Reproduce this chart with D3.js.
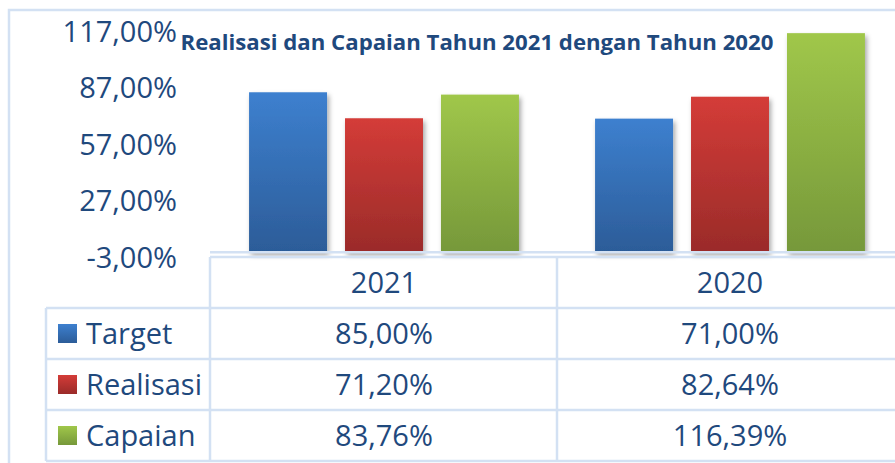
<!DOCTYPE html>
<html>
<head>
<meta charset="utf-8">
<script src="https://cdn.jsdelivr.net/npm/d3@7"></script>
<style>
  body { margin: 0; background: #fff; }
  svg { display: block; font-family: "Open Sans", "Noto Sans", sans-serif; }
</style>
</head>
<body>
<div id="wrapper"></div>
<script>
var years = ["2021", "2020"];
var series = ["Target", "Realisasi", "Capaian"];
var target = [85.00, 71.00];
var realisasi = [71.20, 82.64];
var capaian = [83.76, 116.39];
var tickValues = [-3, 27, 57, 87, 117];
var title = "Realisasi dan Capaian Tahun 2021 dengan Tahun 2020";

var values = { "Target": target, "Realisasi": realisasi, "Capaian": capaian };
var colors = {
  "Target": ["#3d80cf", "#2c5c98"],
  "Realisasi": ["#d43c38", "#9a2b29"],
  "Capaian": ["#a0c74a", "#76983a"]
};
var textColor = "#1f497d";
var lineColor = "#d3e1f3";

var fmt = function(v) { return v.toFixed(2).replace(".", ",") + "%"; };

var svg = d3.select("#wrapper")
            .append("svg")
            .attr("width", 895)
            .attr("height", 463);

var defs = svg.append("defs");
series.forEach(function(s) {
  var g = defs.append("linearGradient")
              .attr("id", "grad-" + s)
              .attr("x1", 0).attr("y1", 0).attr("x2", 0).attr("y2", 1);
  g.append("stop").attr("offset", "0%").attr("stop-color", colors[s][0]);
  g.append("stop").attr("offset", "100%").attr("stop-color", colors[s][1]);
});
var shadow = defs.append("filter").attr("id", "shadow")
                 .attr("x", "-20%").attr("y", "-20%").attr("width", "150%").attr("height", "150%");
shadow.append("feDropShadow")
      .attr("dx", 2).attr("dy", 3).attr("stdDeviation", 2.5)
      .attr("flood-color", "#000").attr("flood-opacity", 0.35);

// outer frame
svg.append("rect")
   .attr("x", 9).attr("y", 10).attr("width", 920).attr("height", 480)
   .attr("fill", "none").attr("stroke", lineColor).attr("stroke-width", 2.5);

var y = d3.scaleLinear().domain([-3, 117]).range([258, 32]);

var x0 = d3.scaleBand().domain(years).range([211, 903]);
var bw = x0.bandwidth();
var x1 = d3.scaleBand().domain(series)
           .range([bw * 0.11, bw * 0.89])
           .paddingInner(0.1875);

// y axis labels
var yAxis = d3.axisLeft(y).tickValues(tickValues).tickSize(0).tickPadding(0)
              .tickFormat(fmt);
var ya = svg.append("g").attr("transform", "translate(177,0)").call(yAxis);
ya.select(".domain").remove();
ya.selectAll("text")
  .attr("fill", textColor)
  .style("font-size", "29px")
  .style("font-family", "'Open Sans', sans-serif");

// bars
var groups = svg.selectAll("g.year")
                .data(years)
                .enter()
                .append("g")
                .attr("class", "year")
                .attr("transform", function(d) { return "translate(" + x0(d) + ",0)"; });

groups.selectAll("rect")
      .data(function(d, i) { return series.map(function(s) { return { s: s, v: values[s][i] }; }); })
      .enter()
      .append("rect")
      .attr("x", function(d) { return x1(d.s); })
      .attr("y", function(d) { return y(d.v); })
      .attr("width", x1.bandwidth())
      .attr("height", function(d) { return y(0) - y(d.v); })
      .attr("fill", function(d) { return "url(#grad-" + d.s + ")"; })
      .attr("filter", "url(#shadow)");

// axis line at zero
svg.append("line")
   .attr("x1", 210).attr("x2", 895)
   .attr("y1", y(0)).attr("y2", y(0))
   .attr("stroke", lineColor).attr("stroke-width", 2.5);

// data table
var rowTop = 257, rowH = 51;
var tableLeft = 46;
var table = svg.append("g");

// header row box
table.append("line").attr("x1", 210).attr("x2", 895).attr("y1", rowTop).attr("y2", rowTop)
     .attr("stroke", lineColor).attr("stroke-width", 2.5);
for (var r = 1; r <= series.length + 1; r++) {
  table.append("line").attr("x1", tableLeft).attr("x2", 895)
       .attr("y1", rowTop + r * rowH).attr("y2", rowTop + r * rowH)
       .attr("stroke", lineColor).attr("stroke-width", 2.5);
}
table.append("line").attr("x1", tableLeft).attr("x2", tableLeft)
     .attr("y1", rowTop + rowH).attr("y2", rowTop + 4 * rowH)
     .attr("stroke", lineColor).attr("stroke-width", 2.5);
[210, x0("2020")].forEach(function(xv) {
  table.append("line").attr("x1", xv).attr("x2", xv)
       .attr("y1", rowTop).attr("y2", rowTop + 4 * rowH)
       .attr("stroke", lineColor).attr("stroke-width", 2.5);
});

table.selectAll("text.year")
     .data(years)
     .enter()
     .append("text")
     .attr("class", "year")
     .attr("x", function(d) { return x0(d) + bw / 2; })
     .attr("y", rowTop + rowH / 2)
     .attr("dy", "0.35em")
     .attr("text-anchor", "middle")
     .attr("fill", textColor)
     .style("font-size", "29px")
     .text(function(d) { return d; });

series.forEach(function(s, si) {
  var cy = rowTop + (si + 1) * rowH + rowH / 2;
  table.append("rect")
       .attr("x", 58).attr("y", cy - 9.5).attr("width", 19).attr("height", 19)
       .attr("fill", "url(#grad-" + s + ")");
  table.append("text")
       .attr("x", 86).attr("y", cy).attr("dy", "0.35em")
       .attr("fill", textColor)
       .style("font-size", "29px")
       .text(s);
  table.selectAll("text.v" + si)
       .data(values[s])
       .enter()
       .append("text")
       .attr("class", "v" + si)
       .attr("x", function(d, i) { return x0(years[i]) + bw / 2; })
       .attr("y", cy).attr("dy", "0.35em")
       .attr("text-anchor", "middle")
       .attr("fill", textColor)
       .style("font-size", "29px")
       .text(fmt);
});

// title
var t = svg.append("text")
           .attr("x", 477).attr("y", 50)
           .attr("text-anchor", "middle")
           .attr("fill", textColor)
           .style("font-weight", "bold")
           .style("font-size", "20px")
           .text(title);
var tw = t.node().getComputedTextLength();
t.style("font-size", (20 * 593 / tw) + "px");
</script>
</body>
</html>
